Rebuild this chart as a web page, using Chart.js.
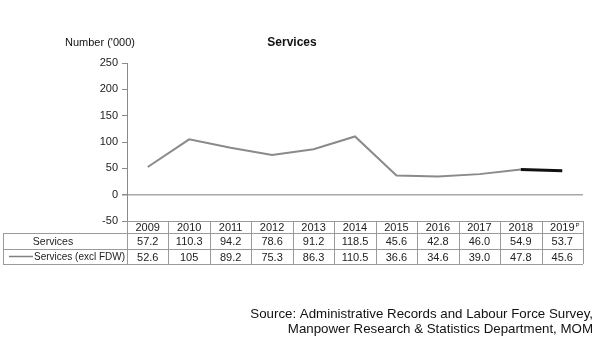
<!DOCTYPE html>
<html><head><meta charset="utf-8">
<script src="https://cdn.jsdelivr.net/npm/chart.js@4.4.1/dist/chart.umd.min.js"></script>
<style>html,body{margin:0;padding:0;background:#fff}#wrap{width:600px;height:360px;position:relative}</style>
</head><body><div id="wrap"><canvas id="c" width="600" height="360"></canvas></div>
<script>
const years = ['2009','2010','2011','2012','2013','2014','2015','2016','2017','2018','2019'];
const yearSuffix = ['','','','','','','','','','','P'];
const servicesText = ['57.2','110.3','94.2','78.6','91.2','118.5','45.6','42.8','46.0','54.9','53.7'];
const exclFdwText = ['52.6','105','89.2','75.3','86.3','110.5','36.6','34.6','39.0','47.8','45.6'];
const services = servicesText.map(Number);
const servicesExclFdw = exclFdwText.map(Number);
const yTicks = [-50, 0, 50, 100, 150, 200, 250];
const rowLabels = ['Services', 'Services (excl FDW)'];

const FONT = '"Liberation Sans", Arial, sans-serif';
const AREA = {left:127, right:583, top:63, bottom:221};

const tablePlugin = {
  id:'tablePlugin',
  afterDraw(chart){
    const ctx = chart.ctx, x = chart.scales.x;
    const colW = (AREA.right-AREA.left)/years.length;
    const rTop = 221, r1 = 233, r2 = 249, r3 = 264, labL = 3;
    ctx.save();
    ctx.strokeStyle = '#9a9a9a'; ctx.lineWidth = 1;
    ctx.beginPath();
    ctx.moveTo(AREA.left, rTop+0.5); ctx.lineTo(AREA.right, rTop+0.5);
    ctx.moveTo(labL, r1+0.5); ctx.lineTo(AREA.right, r1+0.5);
    ctx.moveTo(labL, r2+0.5); ctx.lineTo(AREA.right, r2+0.5);
    ctx.moveTo(labL, r3+0.5); ctx.lineTo(AREA.right, r3+0.5);
    ctx.moveTo(labL+0.5, r1); ctx.lineTo(labL+0.5, r3);
    for(let i=0;i<=years.length;i++){
      const xx = Math.round(AREA.left + i*colW)+0.5;
      ctx.moveTo(xx, rTop); ctx.lineTo(xx, r3);
    }
    ctx.stroke();
    ctx.fillStyle = '#222';
    ctx.font = '11px '+FONT;
    ctx.textAlign='center'; ctx.textBaseline='middle';
    years.forEach((y,i)=>{
      const cx = x.getPixelForValue(i);
      ctx.fillText(y, cx, (rTop+r1)/2+1);
      if(yearSuffix[i]){
        const w = ctx.measureText(y).width;
        ctx.save(); ctx.font='6px '+FONT; ctx.textAlign='left';
        ctx.fillText(yearSuffix[i], cx+w/2+1, rTop+4);
        ctx.restore();
      }
      ctx.fillText(servicesText[i], cx, (r1+r2)/2+1);
      ctx.fillText(exclFdwText[i], cx, (r2+r3)/2+1);
    });
    ctx.font = '10.5px '+FONT;
    ctx.fillText(rowLabels[0], 53, (r1+r2)/2+1);
    ctx.textAlign='left';
    ctx.font = '10px '+FONT;
    ctx.fillText(rowLabels[1], 34, (r2+r3)/2+1);
    ctx.strokeStyle='#808080'; ctx.lineWidth=1.5;
    ctx.beginPath(); ctx.moveTo(9,(r2+r3)/2); ctx.lineTo(33,(r2+r3)/2); ctx.stroke();
    ctx.fillStyle='#111';
    ctx.font='bold 12px '+FONT; ctx.textAlign='center';
    ctx.fillText('Services', 292, 43);
    ctx.font='11px '+FONT;
    ctx.fillText("Number ('000)", 100, 43);
    ctx.font='13.3px '+FONT; ctx.textAlign='right';
    ctx.fillText('Source: Administrative Records and Labour Force Survey,', 593, 314);
    ctx.fillText('Manpower Research & Statistics Department, MOM', 593, 329);
    ctx.restore();
  }
};

new Chart(document.getElementById('c'), {
  type:'line',
  data:{labels:years, datasets:[{
    label: rowLabels[1],
    data: servicesExclFdw,
    borderColor:'#8a8a8a', borderWidth:2, pointRadius:0, tension:0,
    segment:{
      borderColor: c => c.p0DataIndex === years.length-2 ? '#111' : undefined,
      borderWidth: c => c.p0DataIndex === years.length-2 ? 3 : undefined
    }
  }]},
  options:{
    responsive:false, animation:false,
    layout:{padding:{left:0, top:AREA.top, right:600-AREA.right, bottom:360-AREA.bottom}},
    plugins:{legend:{display:false}, title:{display:false}, tooltip:{enabled:false}},
    scales:{
      x:{type:'category', display:false, offset:true},
      y:{
        min:-50, max:250,
        afterFit(s){ s.width = AREA.left; },
        afterBuildTicks(s){ s.ticks = yTicks.map(v=>({value:v})); },
        border:{display:true, color:'#8a8a8a', width:1},
        grid:{
          color: c => c.tick && c.tick.value===0 ? '#a8a8a8' : 'transparent',
          lineWidth: c => c.tick && c.tick.value===0 ? 1.5 : 1,
          tickColor:'#8a8a8a', tickLength:5, drawTicks:true
        },
        ticks:{color:'#222', font:{family:FONT, size:11}, padding:4}
      }
    }
  },
  plugins:[tablePlugin]
});
</script></body></html>
